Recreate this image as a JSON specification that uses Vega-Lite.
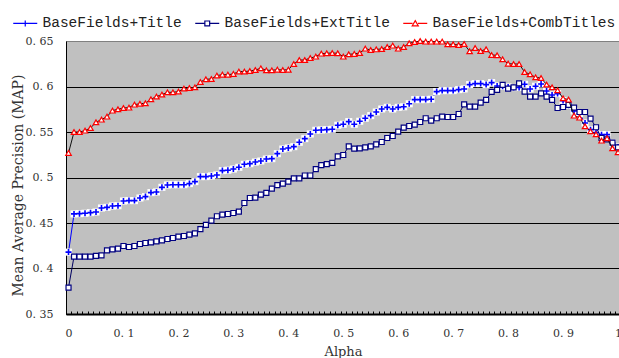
{
  "$schema": "https://vega.github.io/schema/vega-lite/v6.json",
  "width": 553,
  "height": 273,
  "autosize": {"type": "none"},
  "padding": {"left": 66, "top": 41, "right": 0, "bottom": 44},
  "background": "white",
  "config": {
    "view": {"fill": "#c0c0c0", "stroke": "#808080"},
    "font": "DejaVu Serif",
    "legend": {"orient": "none", "legendX": -48, "legendY": -25, "direction": "horizontal", "labelFont": "Liberation Mono", "labelFontSize": 14.5, "labelColor": "#222", "labelOffset": 10, "columnPadding": 10, "labelLimit": 400, "padding": 0, "symbolStrokeWidth": 1.2, "symbolSize": 144}
  },
  "datasets": {
    "title": [
      {"a":0,"m":0.418},{"a":0.01,"m":0.46},{"a":0.02,"m":0.4603},{"a":0.03,"m":0.4607},{"a":0.04,"m":0.4614},{"a":0.05,"m":0.4621},{"a":0.06,"m":0.4665},{"a":0.07,"m":0.4672},{"a":0.08,"m":0.4687},{"a":0.09,"m":0.469},
      {"a":0.1,"m":0.4742},{"a":0.11,"m":0.4746},{"a":0.12,"m":0.4746},{"a":0.13,"m":0.4775},{"a":0.14,"m":0.479},{"a":0.15,"m":0.4834},{"a":0.16,"m":0.4841},{"a":0.17,"m":0.4892},{"a":0.18,"m":0.4918},{"a":0.19,"m":0.4921},
      {"a":0.2,"m":0.4921},{"a":0.21,"m":0.4921},{"a":0.22,"m":0.4933},{"a":0.23,"m":0.4955},{"a":0.24,"m":0.501},{"a":0.25,"m":0.501},{"a":0.26,"m":0.5017},{"a":0.27,"m":0.5028},{"a":0.28,"m":0.5076},{"a":0.29,"m":0.508},
      {"a":0.3,"m":0.5093},{"a":0.31,"m":0.5112},{"a":0.32,"m":0.5145},{"a":0.33,"m":0.5152},{"a":0.34,"m":0.517},{"a":0.35,"m":0.5181},{"a":0.36,"m":0.5203},{"a":0.37,"m":0.5207},{"a":0.38,"m":0.5262},{"a":0.39,"m":0.5313},
      {"a":0.4,"m":0.5324},{"a":0.41,"m":0.5339},{"a":0.42,"m":0.5387},{"a":0.43,"m":0.5427},{"a":0.44,"m":0.5478},{"a":0.45,"m":0.5519},{"a":0.46,"m":0.5522},{"a":0.47,"m":0.5526},{"a":0.48,"m":0.553},{"a":0.49,"m":0.5574},
      {"a":0.5,"m":0.5585},{"a":0.51,"m":0.5614},{"a":0.52,"m":0.5585},{"a":0.53,"m":0.5618},{"a":0.54,"m":0.5651},{"a":0.55,"m":0.568},{"a":0.56,"m":0.572},{"a":0.57,"m":0.5753},{"a":0.58,"m":0.5771},{"a":0.59,"m":0.5753},
      {"a":0.6,"m":0.5771},{"a":0.61,"m":0.5777},{"a":0.62,"m":0.581},{"a":0.63,"m":0.5856},{"a":0.64,"m":0.5856},{"a":0.65,"m":0.5856},{"a":0.66,"m":0.586},{"a":0.67,"m":0.5944},{"a":0.68,"m":0.5955},{"a":0.69,"m":0.5955},
      {"a":0.7,"m":0.5955},{"a":0.71,"m":0.5966},{"a":0.72,"m":0.5973},{"a":0.73,"m":0.6021},{"a":0.74,"m":0.6032},{"a":0.75,"m":0.6032},{"a":0.76,"m":0.6021},{"a":0.77,"m":0.6043},{"a":0.78,"m":0.6006},{"a":0.79,"m":0.6003},
      {"a":0.8,"m":0.5995},{"a":0.81,"m":0.5988},{"a":0.82,"m":0.599},{"a":0.83,"m":0.6024},{"a":0.84,"m":0.5973},{"a":0.85,"m":0.6003},{"a":0.86,"m":0.6028},{"a":0.87,"m":0.5951},{"a":0.88,"m":0.5907},{"a":0.89,"m":0.5922},
      {"a":0.9,"m":0.5845},{"a":0.91,"m":0.5793},{"a":0.92,"m":0.5731},{"a":0.93,"m":0.5702},{"a":0.94,"m":0.5599},{"a":0.95,"m":0.5526},{"a":0.96,"m":0.5493},{"a":0.97,"m":0.5471},{"a":0.98,"m":0.5471},{"a":0.99,"m":0.5379},
      {"a":1,"m":0.5335}
    ],
    "ext": [
      {"a":0,"m":0.379},{"a":0.01,"m":0.4131},{"a":0.02,"m":0.4131},{"a":0.03,"m":0.4131},{"a":0.04,"m":0.4131},{"a":0.05,"m":0.4138},{"a":0.06,"m":0.4145},{"a":0.07,"m":0.42},{"a":0.08,"m":0.4211},{"a":0.09,"m":0.4219},
      {"a":0.1,"m":0.4247},{"a":0.11,"m":0.4236},{"a":0.12,"m":0.4247},{"a":0.13,"m":0.4269},{"a":0.14,"m":0.428},{"a":0.15,"m":0.4288},{"a":0.16,"m":0.4299},{"a":0.17,"m":0.431},{"a":0.18,"m":0.4324},{"a":0.19,"m":0.4335},
      {"a":0.2,"m":0.435},{"a":0.21,"m":0.4357},{"a":0.22,"m":0.4372},{"a":0.23,"m":0.4387},{"a":0.24,"m":0.4432},{"a":0.25,"m":0.448},{"a":0.26,"m":0.4526},{"a":0.27,"m":0.4574},{"a":0.28,"m":0.4592},{"a":0.29,"m":0.4599},
      {"a":0.3,"m":0.461},{"a":0.31,"m":0.4625},{"a":0.32,"m":0.472},{"a":0.33,"m":0.4775},{"a":0.34,"m":0.4779},{"a":0.35,"m":0.4812},{"a":0.36,"m":0.483},{"a":0.37,"m":0.4878},{"a":0.38,"m":0.4916},{"a":0.39,"m":0.4933},
      {"a":0.4,"m":0.4955},{"a":0.41,"m":0.499},{"a":0.42,"m":0.499},{"a":0.43,"m":0.5022},{"a":0.44,"m":0.5022},{"a":0.45,"m":0.5091},{"a":0.46,"m":0.5135},{"a":0.47,"m":0.5148},{"a":0.48,"m":0.516},{"a":0.49,"m":0.5233},
      {"a":0.5,"m":0.5247},{"a":0.51,"m":0.5343},{"a":0.52,"m":0.5318},{"a":0.53,"m":0.5321},{"a":0.54,"m":0.5332},{"a":0.55,"m":0.5343},{"a":0.56,"m":0.5365},{"a":0.57,"m":0.539},{"a":0.58,"m":0.5434},{"a":0.59,"m":0.5456},
      {"a":0.6,"m":0.5505},{"a":0.61,"m":0.5548},{"a":0.62,"m":0.5566},{"a":0.63,"m":0.5581},{"a":0.64,"m":0.561},{"a":0.65,"m":0.5651},{"a":0.66,"m":0.5625},{"a":0.67,"m":0.5651},{"a":0.68,"m":0.5669},{"a":0.69,"m":0.5665},
      {"a":0.7,"m":0.5665},{"a":0.71,"m":0.5698},{"a":0.72,"m":0.5804},{"a":0.73,"m":0.5779},{"a":0.74,"m":0.5779},{"a":0.75,"m":0.5823},{"a":0.76,"m":0.5852},{"a":0.77,"m":0.594},{"a":0.78,"m":0.5962},{"a":0.79,"m":0.6017},
      {"a":0.8,"m":0.5977},{"a":0.81,"m":0.5991},{"a":0.82,"m":0.6035},{"a":0.83,"m":0.5944},{"a":0.84,"m":0.5889},{"a":0.85,"m":0.5889},{"a":0.86,"m":0.5925},{"a":0.87,"m":0.5889},{"a":0.88,"m":0.5852},{"a":0.89,"m":0.5764},
      {"a":0.9,"m":0.5775},{"a":0.91,"m":0.5797},{"a":0.92,"m":0.5768},{"a":0.93,"m":0.572},{"a":0.94,"m":0.572},{"a":0.95,"m":0.5647},{"a":0.96,"m":0.5552},{"a":0.97,"m":0.5434},{"a":0.98,"m":0.542},{"a":0.99,"m":0.5383},
      {"a":1,"m":0.533}
    ],
    "comb": [
      {"a":0,"m":0.527},{"a":0.01,"m":0.55},{"a":0.02,"m":0.55},{"a":0.03,"m":0.5515},{"a":0.04,"m":0.5544},{"a":0.05,"m":0.5607},{"a":0.06,"m":0.5636},{"a":0.07,"m":0.5669},{"a":0.08,"m":0.5735},{"a":0.09,"m":0.575},
      {"a":0.1,"m":0.5764},{"a":0.11,"m":0.5768},{"a":0.12,"m":0.5801},{"a":0.13,"m":0.581},{"a":0.14,"m":0.5816},{"a":0.15,"m":0.586},{"a":0.16,"m":0.5889},{"a":0.17,"m":0.5911},{"a":0.18,"m":0.5936},{"a":0.19,"m":0.5936},
      {"a":0.2,"m":0.5944},{"a":0.21,"m":0.5977},{"a":0.22,"m":0.5984},{"a":0.23,"m":0.5991},{"a":0.24,"m":0.605},{"a":0.25,"m":0.608},{"a":0.26,"m":0.6082},{"a":0.27,"m":0.612},{"a":0.28,"m":0.613},{"a":0.29,"m":0.613},
      {"a":0.3,"m":0.6138},{"a":0.31,"m":0.6164},{"a":0.32,"m":0.6164},{"a":0.33,"m":0.617},{"a":0.34,"m":0.6181},{"a":0.35,"m":0.62},{"a":0.36,"m":0.6178},{"a":0.37,"m":0.6178},{"a":0.38,"m":0.6185},{"a":0.39,"m":0.6181},
      {"a":0.4,"m":0.6185},{"a":0.41,"m":0.6247},{"a":0.42,"m":0.6291},{"a":0.43,"m":0.6291},{"a":0.44,"m":0.6313},{"a":0.45,"m":0.6328},{"a":0.46,"m":0.6361},{"a":0.47,"m":0.6365},{"a":0.48,"m":0.6368},{"a":0.49,"m":0.6365},
      {"a":0.5,"m":0.6328},{"a":0.51,"m":0.6354},{"a":0.52,"m":0.6358},{"a":0.53,"m":0.6368},{"a":0.54,"m":0.6416},{"a":0.55,"m":0.6401},{"a":0.56,"m":0.6408},{"a":0.57,"m":0.6412},{"a":0.58,"m":0.6434},{"a":0.59,"m":0.6449},
      {"a":0.6,"m":0.6416},{"a":0.61,"m":0.6434},{"a":0.62,"m":0.6475},{"a":0.63,"m":0.6489},{"a":0.64,"m":0.65},{"a":0.65,"m":0.6493},{"a":0.66,"m":0.6493},{"a":0.67,"m":0.6493},{"a":0.68,"m":0.6493},{"a":0.69,"m":0.6464},
      {"a":0.7,"m":0.6464},{"a":0.71,"m":0.6456},{"a":0.72,"m":0.6467},{"a":0.73,"m":0.6387},{"a":0.74,"m":0.6423},{"a":0.75,"m":0.639},{"a":0.76,"m":0.6409},{"a":0.77,"m":0.6346},{"a":0.78,"m":0.6343},{"a":0.79,"m":0.6299},
      {"a":0.8,"m":0.6251},{"a":0.81,"m":0.6247},{"a":0.82,"m":0.6247},{"a":0.83,"m":0.6159},{"a":0.84,"m":0.6134},{"a":0.85,"m":0.6101},{"a":0.86,"m":0.6093},{"a":0.87,"m":0.6021},{"a":0.88,"m":0.5991},{"a":0.89,"m":0.5958},
      {"a":0.9,"m":0.587},{"a":0.91,"m":0.5856},{"a":0.92,"m":0.568},{"a":0.93,"m":0.5658},{"a":0.94,"m":0.5563},{"a":0.95,"m":0.5508},{"a":0.96,"m":0.5475},{"a":0.97,"m":0.5405},{"a":0.98,"m":0.5431},{"a":0.99,"m":0.5321},
      {"a":1,"m":0.5277}
    ]
  },
  "encoding": {
    "x": {
      "field": "a", "type": "quantitative",
      "scale": {"domain": [-0.0046, 1.0018], "nice": false, "zero": false},
      "axis": {
        "title": "Alpha", "titleFont": "DejaVu Serif", "titleFontSize": 13, "titleFontWeight": "normal", "titleColor": "#333",
        "titleX": 277, "titleY": 37, "titleBaseline": "middle", "titleAlign": "center",
        "tickCount": 100, "grid": false, "ticks": true, "tickSize": -3, "tickColor": "#000", "tickWidth": 1, "tickOffset": -2.75,
        "labelOffset": 2.75, "labelPadding": 16, "labelOverlap": false, "labelFlush": false, "labelBound": false,
        "labelFont": "DejaVu Serif", "labelFontSize": 11, "labelColor": "#333",
        "labelExpr": "round(datum.value*100) % 10 == 0 ? replace(format(datum.value, '.1~f'), '.', '. ') : ''",
        "domainColor": "#000", "domainWidth": 2
      }
    },
    "y": {
      "field": "m", "type": "quantitative",
      "scale": {"domain": [0.35, 0.65], "nice": false, "zero": false},
      "axis": {
        "title": "Mean Average Precision (MAP)", "titleFont": "DejaVu Serif", "titleFontSize": 14, "titleFontWeight": "normal", "titleColor": "#333",
        "titleX": -48, "titleY": 144, "titleAngle": -90, "titleBaseline": "middle", "titleAlign": "center",
        "values": [0.35, 0.4, 0.45, 0.5, 0.55, 0.6, 0.65], "format": ".2~f",
        "labelExpr": "replace(datum.label, '.', '. ')",
        "labelFont": "DejaVu Serif", "labelFontSize": 11, "labelColor": "#333", "labelPadding": 13,
        "ticks": false, "grid": true, "gridColor": {"condition": {"test": "datum.value > 0.649", "value": "#808080"}, "value": "#000"}, "gridWidth": 1,
        "domainColor": "#000", "domainWidth": 1
      }
    }
  },
  "layer": [
    {"data": {"name": "title"}, "mark": {"type": "line", "color": "#0000ff", "strokeWidth": 1, "clip": false}},
    {"data": {"name": "title"}, "mark": {"type": "point", "shape": "square", "filled": true, "fill": "#ffffff", "opacity": 1, "size": 50, "strokeWidth": 0}},
    {"data": {"name": "title"}, "mark": {"type": "point", "shape": "M-1,0H1M0,-1V1", "filled": false, "stroke": "#0000ff", "opacity": 1, "size": 36, "strokeWidth": 1.6}},
    {"data": {"name": "ext"}, "mark": {"type": "line", "color": "#000060", "strokeWidth": 1}},
    {"data": {"name": "ext"}, "mark": {"type": "point", "shape": "square", "filled": true, "fill": "#ffffff", "stroke": "#000080", "opacity": 1, "size": 25, "strokeWidth": 1.2}},
    {"data": {"name": "comb"}, "mark": {"type": "line", "color": "#111111", "strokeWidth": 1}},
    {"data": {"name": "comb"}, "mark": {"type": "point", "shape": "triangle-up", "filled": true, "fill": "#ffffff", "stroke": "#ff0000", "opacity": 1, "size": 30, "strokeWidth": 1.2, "clip": false}},
    {
      "data": {"name": "comb"},
      "transform": [{"filter": "false"}],
      "mark": {"type": "point", "filled": false, "opacity": 1},
      "encoding": {
        "color": {"field": "s", "type": "nominal", "legend": {"title": null},
          "scale": {"domain": ["BaseFields+Title", "BaseFields+ExtTitle", "BaseFields+CombTitles"], "range": ["#0000ff", "#000080", "#ff0000"]}},
        "shape": {"field": "s", "type": "nominal", "legend": {"title": null},
          "scale": {"domain": ["BaseFields+Title", "BaseFields+ExtTitle", "BaseFields+CombTitles"], "range": ["M-2,0H2M0,-0.5V0.5", "M-2,0H-0.4M0.4,0H2M-0.4,-0.4H0.4V0.4H-0.4Z", "M-2,0H-0.45M0.45,0H2M0,-0.45L0.5,0.4H-0.5Z"]}}
      }
    }
  ]
}
